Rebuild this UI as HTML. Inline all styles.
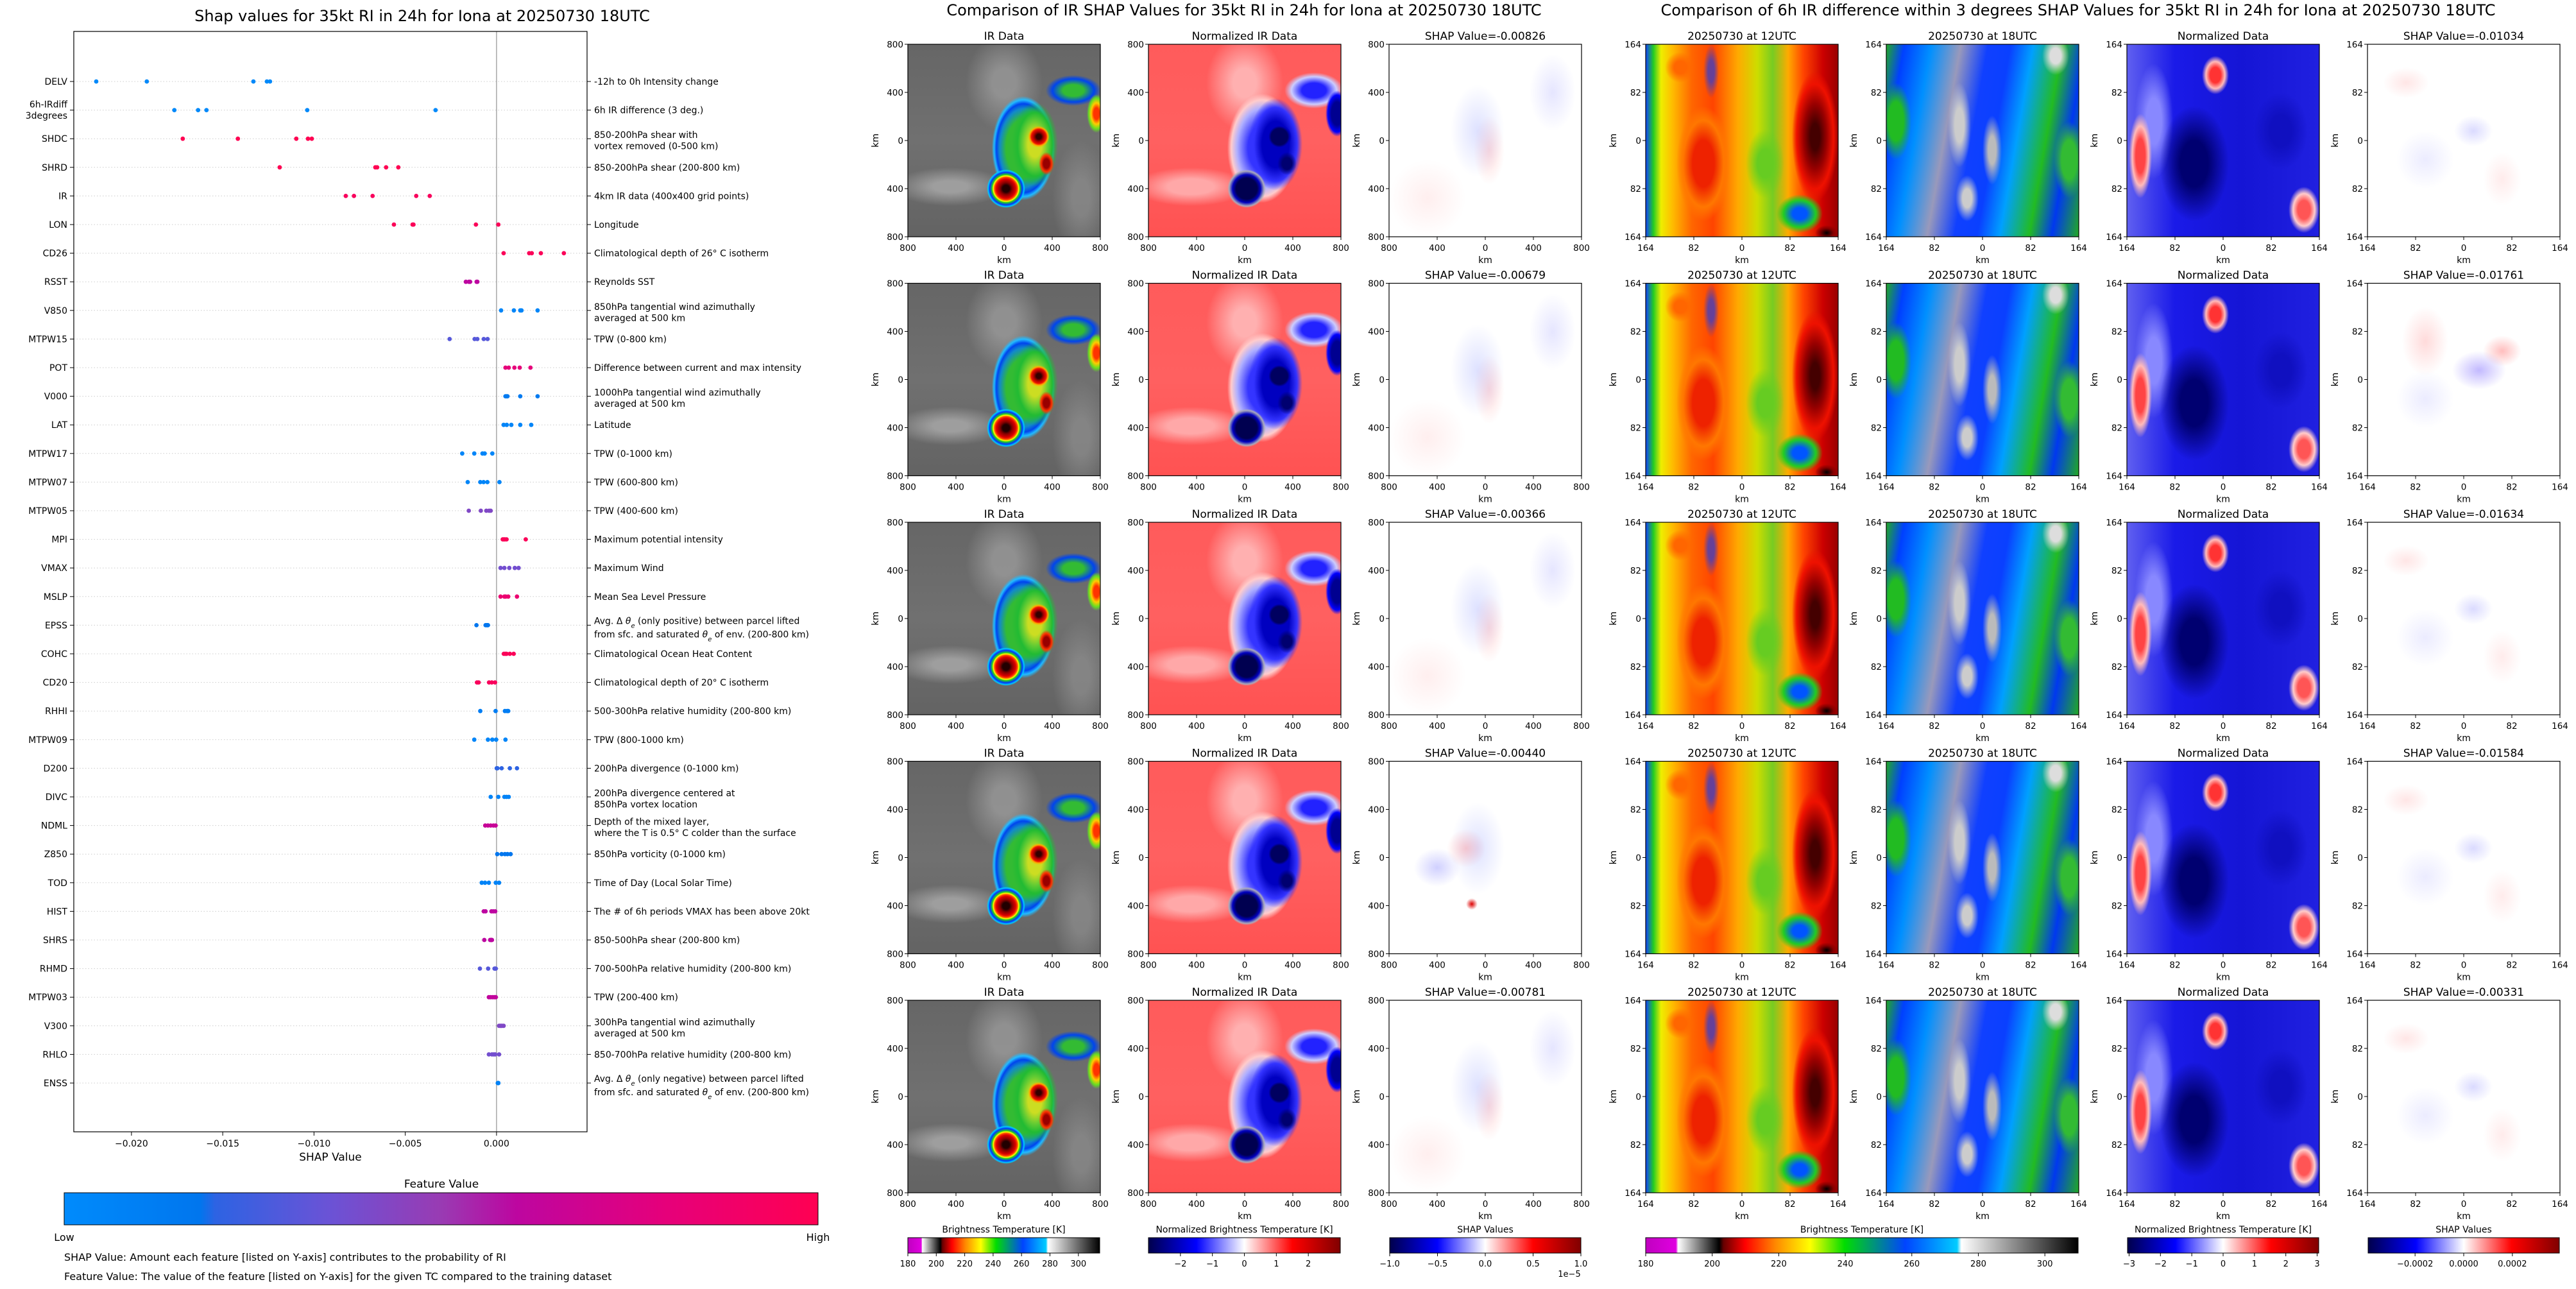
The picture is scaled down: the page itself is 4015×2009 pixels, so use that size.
<!DOCTYPE html>
<html><head><meta charset="utf-8">
<style>
html,body{margin:0;padding:0;background:#fff;}
body{width:4015px;height:2009px;position:relative;overflow:hidden;font-family:"DejaVu Sans","Liberation Sans",sans-serif;}
.pn{position:absolute;width:300px;height:300px;overflow:hidden;}
.ir{background:
 radial-gradient(circle at 51% 75%, #200 0 2%, #800 3.5%, #d00 5.5%, #f40 6.5%, #ff0 7.3%, #2c2 8%, #03f 9.3%, #0cf 10.3%, transparent 11%),
 radial-gradient(circle at 68% 48%, #300 0 1.5%, #a00 3%, #e10 4.5%, #fa0 5.5%, transparent 6.5%),
 radial-gradient(ellipse 4% 6% at 72% 62%, #900 0 40%, #f30 70%, transparent 100%),
 radial-gradient(ellipse 5% 10% at 98% 36%, #f30 0 30%, #fc0 55%, #6d2 80%, transparent 100%),
 radial-gradient(ellipse 12% 22% at 66% 52%, #cd2 0 30%, #6c3 55%, #2b3 75%, transparent 100%),
 radial-gradient(ellipse 20% 33% at 60% 54%, #3b3 0 45%, #18c 62%, #04e 70%, #2bf 76%, transparent 82%),
 radial-gradient(ellipse 18% 10% at 86% 24%, #3b3 0 30%, #04e 60%, transparent 80%),
 radial-gradient(ellipse 30% 10% at 22% 74%, rgba(180,180,180,.7) 0 30%, transparent 100%),
 radial-gradient(ellipse 20% 25% at 50% 20%, rgba(170,170,170,.6) 0 30%, transparent 100%),
 radial-gradient(ellipse 15% 30% at 90% 80%, rgba(150,150,150,.6) 0 30%, transparent 100%),
 linear-gradient(#666,#707070 50%,#636363);}
.nir{background:
 radial-gradient(circle at 51% 75%, #000050 0 6%, #0000c0 8%, #aab 10%, transparent 11%),
 radial-gradient(circle at 68% 48%, #000060 0 5%, #0000c0 6.5%, transparent 7.5%),
 radial-gradient(ellipse 5% 6% at 72% 62%, #000070 0 50%, transparent 100%),
 radial-gradient(ellipse 6% 12% at 98% 36%, #000090 0 50%, #00f 80%, transparent 100%),
 radial-gradient(ellipse 14% 24% at 66% 52%, #0000c0 0 50%, #33f 80%, transparent 100%),
 radial-gradient(ellipse 21% 33% at 59% 54%, #3535ff 0 35%, #b0b0ff 62%, #fcc 76%, transparent 86%),
 radial-gradient(ellipse 18% 11% at 86% 24%, #22f 0 35%, #ccf 65%, transparent 85%),
 radial-gradient(ellipse 30% 10% at 22% 74%, #ffa8a8 0 40%, transparent 100%),
 radial-gradient(ellipse 20% 25% at 50% 20%, #ffb0b0 0 30%, transparent 100%),
 linear-gradient(#ff5b5b,#ff6060 50%,#ff5252);}
.sa{background:
 radial-gradient(ellipse 14% 24% at 46% 45%, rgba(160,170,255,.35) 0, transparent 100%),
 radial-gradient(ellipse 8% 18% at 52% 55%, rgba(255,150,150,.35) 0, transparent 100%),
 radial-gradient(ellipse 20% 20% at 20% 80%, rgba(255,200,200,.3) 0, transparent 100%),
 radial-gradient(ellipse 12% 20% at 85% 25%, rgba(170,170,255,.3) 0, transparent 100%),#fff;}
.sa4{background:
 radial-gradient(ellipse 3% 3% at 43% 74%, #d00 0, transparent 100%),
 radial-gradient(ellipse 10% 10% at 40% 45%, rgba(255,120,120,.35) 0, transparent 100%),
 radial-gradient(ellipse 12% 10% at 25% 55%, rgba(120,120,255,.35) 0, transparent 100%),
 radial-gradient(ellipse 14% 24% at 46% 45%, rgba(160,170,255,.35) 0, transparent 100%),#fff;}
.t12{background:
 radial-gradient(ellipse 6% 4% at 94% 98%, #000 0, #800 60%, transparent 100%),
 radial-gradient(ellipse 12% 10% at 80% 88%, #05f 0 30%, #2c2 70%, transparent 100%),
 radial-gradient(ellipse 12% 34% at 88% 48%, #400 0 20%, #900 50%, #e10 80%, transparent 100%),
 radial-gradient(ellipse 14% 30% at 30% 62%, #e20 0 40%, #f70 75%, transparent 100%),
 radial-gradient(ellipse 8% 8% at 18% 12%, #f60 0 40%, transparent 100%),
 radial-gradient(ellipse 4% 14% at 34% 14%, rgba(0,60,255,.6) 0 40%, transparent 100%),
 radial-gradient(ellipse 10% 18% at 62% 62%, #6c2 0 40%, transparent 100%),
 linear-gradient(90deg,#1040ff 0%,#2c2 4%,#ee0 8%,#fb0 14%,#f60 24%,#f40 35%,#fa0 48%,#cd0 58%,#7c2 66%,#fa0 74%,#f40 82%,#c00 92%,#900 100%);}
.t18{background:
 radial-gradient(ellipse 6% 22% at 38% 42%, #ccc 0 40%, transparent 100%),
 radial-gradient(ellipse 5% 18% at 55% 55%, #bbb 0 40%, transparent 100%),
 radial-gradient(ellipse 6% 12% at 42% 80%, #ccc 0 40%, transparent 100%),
 radial-gradient(ellipse 7% 10% at 88% 6%, #ddd 0 40%, transparent 100%),
 radial-gradient(ellipse 8% 20% at 95% 60%, #3b3 0 50%, transparent 100%),
 radial-gradient(ellipse 8% 20% at 5% 40%, #2b2 0 50%, transparent 100%),
 linear-gradient(100deg,#2a2 0%,#0040ff 8%,#0090ff 20%,#99b 33%,#1040ff 45%,#0a40ff 55%,#00a0ff 65%,#2b2 78%,#0038f0 88%,#2a2 100%);}
.nd{background:
 radial-gradient(ellipse 18% 30% at 35% 62%, #000070 0 40%, transparent 100%),
 radial-gradient(ellipse 6% 22% at 7% 58%, #f44 0 40%, #fbb 70%, transparent 100%),
 radial-gradient(ellipse 7% 10% at 46% 16%, #f33 0 40%, #fbb 70%, transparent 100%),
 radial-gradient(ellipse 8% 12% at 92% 86%, #f55 0 40%, #fcc 70%, transparent 100%),
 radial-gradient(ellipse 10% 30% at 14% 40%, #88f 0 40%, transparent 100%),
 radial-gradient(ellipse 14% 20% at 80% 45%, #1010c0 0 40%, transparent 100%),
 linear-gradient(90deg,#6060f0,#1a1ae8 25%,#1515d5 60%,#2020e0);}
.sb{background:
 radial-gradient(ellipse 10% 8% at 55% 45%, rgba(150,150,255,.35) 0, transparent 100%),
 radial-gradient(ellipse 12% 8% at 20% 20%, rgba(255,170,170,.3) 0, transparent 100%),
 radial-gradient(ellipse 10% 14% at 70% 70%, rgba(255,190,190,.3) 0, transparent 100%),
 radial-gradient(ellipse 15% 15% at 30% 60%, rgba(190,190,255,.3) 0, transparent 100%),#fff;}
.sb2{background:
 radial-gradient(ellipse 14% 10% at 58% 45%, rgba(120,100,255,.45) 0, transparent 100%),
 radial-gradient(ellipse 10% 8% at 70% 35%, rgba(255,110,110,.45) 0, transparent 100%),
 radial-gradient(ellipse 12% 18% at 30% 30%, rgba(255,150,150,.35) 0, transparent 100%),
 radial-gradient(ellipse 15% 15% at 30% 60%, rgba(190,190,255,.3) 0, transparent 100%),#fff;}
svg text{font-family:"DejaVu Sans","Liberation Sans",sans-serif;fill:#000;}
</style></head>
<body>
<div id="panels"></div>
<svg id="main" width="4015" height="2009" style="position:absolute;left:0;top:0" xmlns="http://www.w3.org/2000/svg">
<defs>
<linearGradient id="fvGrad" x1="0" x2="1" y1="0" y2="0">
<stop offset="0" stop-color="#008bfc"/><stop offset="0.18" stop-color="#0076ee"/><stop offset="0.2" stop-color="#2d63e3"/><stop offset="0.35" stop-color="#6a53d6"/><stop offset="0.5" stop-color="#993bb3"/><stop offset="0.6" stop-color="#bd06a0"/><stop offset="0.8" stop-color="#e6007a"/><stop offset="1" stop-color="#ff0052"/>
</linearGradient>
<linearGradient id="irGrad" x1="0" x2="1" y1="0" y2="0">
<stop offset="0" stop-color="#c000c0"/><stop offset="0.07" stop-color="#e000e0"/><stop offset="0.075" stop-color="#fff"/><stop offset="0.17" stop-color="#000"/><stop offset="0.18" stop-color="#600"/><stop offset="0.23" stop-color="#f00"/><stop offset="0.3" stop-color="#f80"/><stop offset="0.38" stop-color="#ff0"/><stop offset="0.46" stop-color="#0d0"/><stop offset="0.6" stop-color="#04f"/><stop offset="0.72" stop-color="#0cf"/><stop offset="0.73" stop-color="#fff"/><stop offset="1" stop-color="#000"/>
</linearGradient>
<linearGradient id="seisGrad" x1="0" x2="1" y1="0" y2="0">
<stop offset="0" stop-color="#00004c"/><stop offset="0.25" stop-color="#0000ff"/><stop offset="0.5" stop-color="#ffffff"/><stop offset="0.75" stop-color="#ff0000"/><stop offset="1" stop-color="#800000"/>
</linearGradient>
</defs>
<text x="658" y="33" font-size="24" text-anchor="middle">Shap values for 35kt RI in 24h for Iona at 20250730 18UTC</text>
<text x="1939" y="24" font-size="24" text-anchor="middle">Comparison of IR SHAP Values for 35kt RI in 24h for Iona at 20250730 18UTC</text>
<text x="3239" y="24" font-size="24" text-anchor="middle">Comparison of 6h IR difference within 3 degrees SHAP Values for 35kt RI in 24h for Iona at 20250730 18UTC</text>
<g id="shapChart"></g>
<g id="panelAxes"></g>
<g id="cbars"></g>
</svg>
<script>
// ---------- SHAP summary chart data ----------
const features = ["DELV","6h-IRdiff\n3degrees","SHDC","SHRD","IR","LON","CD26","RSST","V850","MTPW15","POT","V000","LAT","MTPW17","MTPW07","MTPW05","MPI","VMAX","MSLP","EPSS","COHC","CD20","RHHI","MTPW09","D200","DIVC","NDML","Z850","TOD","HIST","SHRS","RHMD","MTPW03","V300","RHLO","ENSS"];
const descriptions = ["-12h to 0h Intensity change","6h IR difference (3 deg.)","850-200hPa shear with\nvortex removed (0-500 km)","850-200hPa shear (200-800 km)","4km IR data (400x400 grid points)","Longitude","Climatological depth of 26° C isotherm","Reynolds SST","850hPa tangential wind azimuthally\naveraged at 500 km","TPW (0-800 km)","Difference between current and max intensity","1000hPa tangential wind azimuthally\naveraged at 500 km","Latitude","TPW (0-1000 km)","TPW (600-800 km)","TPW (400-600 km)","Maximum potential intensity","Maximum Wind","Mean Sea Level Pressure","THETA_POS","Climatological Ocean Heat Content","Climatological depth of 20° C isotherm","500-300hPa relative humidity (200-800 km)","TPW (800-1000 km)","200hPa divergence (0-1000 km)","200hPa divergence centered at\n850hPa vortex location","Depth of the mixed layer,\nwhere the T is 0.5° C colder than the surface","850hPa vorticity (0-1000 km)","Time of Day (Local Solar Time)","The # of 6h periods VMAX has been above 20kt","850-500hPa shear (200-800 km)","700-500hPa relative humidity (200-800 km)","TPW (200-400 km)","300hPa tangential wind azimuthally\naveraged at 500 km","850-700hPa relative humidity (200-800 km)","THETA_NEG"];
const shapValues = [
 [-0.02193,-0.01916,-0.01332,-0.01258,-0.01241],
 [-0.01765,-0.01635,-0.01589,-0.01037,-0.00334],
 [-0.01719,-0.01417,-0.01097,-0.01033,-0.01012],
 [-0.01188,-0.00664,-0.00654,-0.00605,-0.00538],
 [-0.00826,-0.00781,-0.00679,-0.00440,-0.00366],
 [-0.00562,-0.00460,-0.00455,-0.00113,0.00010],
 [0.00039,0.00179,0.00193,0.00243,0.00369],
 [-0.00168,-0.00151,-0.00145,-0.00109,-0.00105],
 [0.00025,0.00095,0.00130,0.00137,0.00225],
 [-0.00257,-0.00120,-0.00105,-0.00070,-0.00049],
 [0.00049,0.00067,0.00098,0.00127,0.00186],
 [0.00049,0.00055,0.00060,0.00130,0.00225],
 [0.00039,0.00056,0.00081,0.00130,0.00190],
 [-0.00188,-0.00122,-0.00077,-0.00065,-0.00023],
 [-0.00158,-0.00089,-0.00071,-0.00050,0.00016],
 [-0.00152,-0.00086,-0.00056,-0.00041,-0.00032],
 [0.00034,0.00040,0.00046,0.00055,0.00160],
 [0.00022,0.00043,0.00070,0.00100,0.00121],
 [0.00022,0.00043,0.00050,0.00064,0.00112],
 [-0.00110,-0.00060,-0.00055,-0.00047,-0.00050],
 [0.00040,0.00048,0.00055,0.00073,0.00094],
 [-0.00107,-0.00098,-0.00041,-0.00026,-0.00008],
 [-0.00089,-0.00005,0.00046,0.00058,0.00064],
 [-0.00122,-0.00047,-0.00023,-0.00002,0.00049],
 [0.00001,0.00028,0.00073,0.00112,0.00005],
 [-0.00032,0.00010,0.00043,0.00055,0.00067],
 [-0.00062,-0.00047,-0.00032,-0.00017,-0.00005],
 [0.00004,0.00028,0.00046,0.00060,0.00077],
 [-0.00081,-0.00063,-0.00042,-0.00004,0.00014],
 [-0.00070,-0.00060,-0.00028,-0.00018,-0.00007],
 [-0.00067,-0.00035,-0.00025,-0.00030,-0.00028],
 [-0.00091,-0.00046,-0.00011,-0.00004,-0.00008],
 [-0.00042,-0.00032,-0.00021,-0.00011,-0.00004],
 [0.00014,0.00021,0.00039,0.00025,0.00030],
 [-0.00042,-0.00025,-0.00007,0.00014,-0.00015],
 [0.00007,0.00010,0.00008,0.00009,0.00010]
];
const featureLevels = [0.02,0.02,1,1,0.95,0.97,0.97,0.6,0.05,0.3,0.8,0.15,0.05,0.05,0.05,0.42,0.97,0.38,0.85,0.18,0.97,0.95,0.12,0.05,0.2,0.07,0.65,0.18,0.07,0.6,0.6,0.3,0.62,0.42,0.38,0.08];
const xTicks = [-0.020,-0.015,-0.010,-0.005,0.000];
const xTickLabels = ["\u22120.020","\u22120.015","\u22120.010","\u22120.005","0.000"];
// ---------- panel data ----------
const irShapValues = [-0.00826,-0.00679,-0.00366,-0.00440,-0.00781];
const diffShapValues = [-0.01034,-0.01761,-0.01634,-0.01584,-0.00331];
const kmTicksIR = ["800","400","0","400","800"];
const kmTicksDiff = ["164","82","0","82","164"];
const cbIRTicks = [180,200,220,240,260,280,300];
const cbNormTicks = [-2,-1,0,1,2];
const cbShapTicks = [-1.0,-0.5,0.0,0.5,1.0];
const cbDiffIRTicks = [180,200,220,240,260,280,300];
const cbNormDTicks = [-3,-2,-1,0,1,2,3];
const cbShapDTicks = [-0.0002,0.0000,0.0002];

const NS = "http://www.w3.org/2000/svg";
function mk(parent, tag, attrs, txt){
  const e = document.createElementNS(NS, tag);
  for (const k in attrs) e.setAttribute(k, attrs[k]);
  if (txt !== undefined) e.textContent = txt;
  parent.appendChild(e);
  return e;
}
const X0 = 115, X1 = 915, XMIN = -0.02316, XMAX = 0.00496;
function xScale(v){ return X0 + (v - XMIN) / (XMAX - XMIN) * (X1 - X0); }
const YTOP = 49, YBOT = 1764;
function yScale(i){ return 127 + i * 44.6; }
const cStops = [[0,[0,139,252]],[0.18,[0,118,238]],[0.2,[45,99,227]],[0.35,[106,83,214]],[0.5,[153,59,179]],[0.6,[189,6,160]],[0.8,[230,0,122]],[1,[255,0,82]]];
function colorOf(t){
  for (let i=1;i<cStops.length;i++){
    if (t <= cStops[i][0]){
      const a=cStops[i-1], b=cStops[i], f=(t-a[0])/(b[0]-a[0]);
      const c=a[1].map((v,j)=>Math.round(v+(b[1][j]-v)*f));
      return "rgb("+c.join(",")+")";
    }
  }
  return "rgb(255,0,82)";
}

const chart = document.getElementById("shapChart");
features.forEach((f,i)=>{
  const y = yScale(i);
  const gl = mk(chart,"line",{x1:X0,x2:X1,y1:y,y2:y,stroke:"#ccc","stroke-width":1,"stroke-dasharray":"1.5,3"});
  
  
  const tl = mk(chart,"line",{x1:X0-6,x2:X0,y1:y,y2:y,stroke:"#000","stroke-width":1});
  
  
  const tr = mk(chart,"line",{x1:X1,x2:X1+6,y1:y,y2:y,stroke:"#000","stroke-width":1});
  
  
  const lines = f.split("\n");
  const lt = mk(chart,"text",{x:X0-10,"text-anchor":"end","font-size":14});
  
  
  if (lines.length===1){ lt.setAttribute("y", y+5); lt.textContent=f; }
  else { lines.forEach((s,k)=>{ mk(lt,"tspan",{x:X0-10,y:y-4+k*17.5},s); }); }
  const d = descriptions[i];
  const rt = mk(chart,"text",{x:X1+11,"font-size":14});
  
  
  if (d==="THETA_POS"||d==="THETA_NEG"){
    const w = d==="THETA_POS"?"positive":"negative";
    rt.innerHTML = '<tspan x="'+(X1+11)+'" y="'+(y-2)+'">Avg. \u0394 <tspan font-style="italic">\u03b8</tspan><tspan font-style="italic" font-size="10" baseline-shift="sub">e</tspan> (only '+w+') between parcel lifted</tspan><tspan x="'+(X1+11)+'" y="'+(y+19)+'">from sfc. and saturated <tspan font-style="italic">\u03b8</tspan><tspan font-style="italic" font-size="10" baseline-shift="sub">e</tspan> of env. (200-800 km)</tspan>';
  } else {
    const dl = d.split("\n");
    if (dl.length===1){ rt.setAttribute("y", y+5); rt.textContent=d; }
    else { dl.forEach((s,k)=>{ mk(rt,"tspan",{x:X1+11,y:y-1+k*17.5},s); }); }
  }
});
const zl = mk(chart,"line",{x1:xScale(0),x2:xScale(0),y1:YTOP,y2:YBOT,stroke:"#999","stroke-width":1.3});


shapValues.forEach((vals,i)=>{
  vals.forEach(v=>{
    const c = mk(chart,"ellipse",{cx:xScale(v),cy:yScale(i),rx:3.4,ry:3.4,fill:colorOf(featureLevels[i])});
    
    
  });
});
const fr = mk(chart,"rect",{x:X0,y:YTOP,width:X1-X0,height:YBOT-YTOP,fill:"none",stroke:"#000","stroke-width":1.2});


xTicks.forEach((t,k)=>{
  const x = xScale(t);
  const tk = mk(chart,"line",{x1:x,x2:x,y1:YBOT,y2:YBOT+6,stroke:"#000"});
  
  
  const tt = mk(chart,"text",{x:x,y:YBOT+23,"text-anchor":"middle","font-size":14},xTickLabels[k]);
  
  
});
const xl = mk(chart,"text",{x:515,y:1809,"text-anchor":"middle","font-size":17},"SHAP Value");


const fvt = mk(chart,"text",{x:688,y:1851,"text-anchor":"middle","font-size":17},"Feature Value");


const fvb = mk(chart,"rect",{x:100,y:1859,width:1175,height:50,fill:"url(#fvGrad)",stroke:"#000","stroke-width":1});


const lo = mk(chart,"text",{x:100,y:1934,"text-anchor":"middle","font-size":16},"Low");


const hi = mk(chart,"text",{x:1275,y:1934,"text-anchor":"middle","font-size":16},"High");


const n1 = mk(chart,"text",{x:100,y:1965,"font-size":16},"SHAP Value: Amount each feature [listed on Y-axis] contributes to the probability of RI");


const n2 = mk(chart,"text",{x:100,y:1995,"font-size":16},"Feature Value: The value of the feature [listed on Y-axis] for the given TC compared to the training dataset");



// ---------- image panels ----------
const colsX = [1415,1790,2165,2565,2940,3315,3690];
const colClass = ["ir","nir","sa","t12","t18","nd","sb"];
const colName = ["ir-data-panel","normalized-ir-panel","ir-shap-panel","ir-12utc-panel","ir-18utc-panel","normalized-diff-panel","diff-shap-panel"];
function rowY(r){ return 69 + r * 372.5; }
const pdiv = document.getElementById("panels");
const pax = document.getElementById("panelAxes");
for (let r=0;r<5;r++){
  const T = rowY(r);
  for (let c=0;c<7;c++){
    const L = colsX[c];
    const d = document.createElement("div");
    let cls = colClass[c];
    if (c===2 && r===3) cls = "sa4";
    if (c===6 && r===1) cls = "sb2";
    d.className = "pn " + cls;
    d.style.left = L+"px"; d.style.top = T+"px";
    
    
    pdiv.appendChild(d);
    let title;
    if (c===0) title="IR Data"; else if (c===1) title="Normalized IR Data";
    else if (c===2) title="SHAP Value="+irShapValues[r].toFixed(5);
    else if (c===3) title="20250730 at 12UTC"; else if (c===4) title="20250730 at 18UTC";
    else if (c===5) title="Normalized Data"; else title="SHAP Value="+diffShapValues[r].toFixed(5);
    const tt = mk(pax,"text",{x:L+150,y:T-7,"text-anchor":"middle","font-size":17},title);
    
    
    const fr2 = mk(pax,"rect",{x:L,y:T,width:300,height:300,fill:"none",stroke:"#000","stroke-width":1.2});
    
    
    const labels = c<3 ? kmTicksIR : kmTicksDiff;
    labels.forEach((lb,k)=>{
      const p = k*75;
      const tx = mk(pax,"line",{x1:L+p,x2:L+p,y1:T+300,y2:T+305,stroke:"#000"});
      
      
      const txl = mk(pax,"text",{x:L+p,y:T+322,"text-anchor":"middle","font-size":13.5},lb);
      
      
      const ty = mk(pax,"line",{x1:L-5,x2:L,y1:T+p,y2:T+p,stroke:"#000"});
      
      
      const tyl = mk(pax,"text",{x:L-7,y:T+p+5,"text-anchor":"end","font-size":13.5},lb);
      
      
    });
    const kx = mk(pax,"text",{x:L+150,y:T+341,"text-anchor":"middle","font-size":14},"km");
    
    
    const ky = mk(pax,"text",{x:0,y:0,"text-anchor":"middle","font-size":14,transform:"translate("+(L-46)+","+(T+150)+") rotate(-90)"},"km");
    
    
  }
}

// ---------- colorbars ----------
const cb = document.getElementById("cbars");
const CBY = 1929, CBH = 24;
function colorbar(x, w, grad, title, vmin, vmax, ticks, fmt){
  const t = mk(cb,"text",{x:x+w/2,y:CBY-8,"text-anchor":"middle","font-size":14},title);
  
  
  const r = mk(cb,"rect",{x:x,y:CBY,width:w,height:CBH,fill:"url(#"+grad+")",stroke:"#000","stroke-width":1});
  
  
  ticks.forEach(v=>{
    const px = x + (v-vmin)/(vmax-vmin)*w;
    const tk = mk(cb,"line",{x1:px,x2:px,y1:CBY+CBH,y2:CBY+CBH+5,stroke:"#000"});
    
    
    const tl = mk(cb,"text",{x:px,y:CBY+CBH+21,"text-anchor":"middle","font-size":13},fmt(v));
    
    
  });
}
const minus = s => String(s).replace("-","\u2212");
colorbar(1415,299,"irGrad","Brightness Temperature [K]",180,315,cbIRTicks,v=>String(v));
colorbar(1790,299,"seisGrad","Normalized Brightness Temperature [K]",-3,3,cbNormTicks,v=>minus(v));
colorbar(2166,298,"seisGrad","SHAP Values",-1,1,cbShapTicks,v=>minus(v.toFixed(1)));
const e5 = mk(cb,"text",{x:2446,y:1990,"text-anchor":"middle","font-size":13},"1e\u22125");


colorbar(2565,674,"irGrad","Brightness Temperature [K]",180,310,cbDiffIRTicks,v=>String(v));
colorbar(3316,298,"seisGrad","Normalized Brightness Temperature [K]",-3.05,3.05,cbNormDTicks,v=>minus(v));
colorbar(3691,298,"seisGrad","SHAP Values",-0.000393,0.000393,cbShapDTicks,v=>minus(v.toFixed(4)));
</script>
</body></html>
